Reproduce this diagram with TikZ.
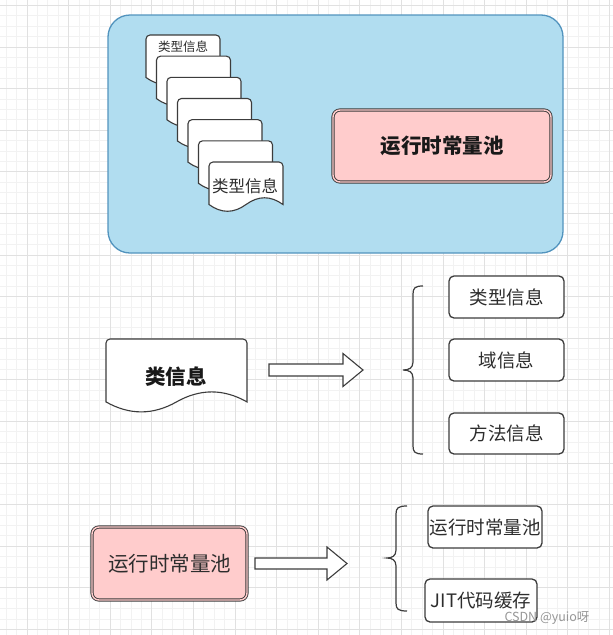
\documentclass[tikz,border=0pt]{standalone}
\usepackage{fontspec}
\setmainfont{Noto Sans CJK SC}
\usetikzlibrary{calc}
\definecolor{gridminor}{RGB}{242,242,242}
\definecolor{gridmajor}{RGB}{225,225,225}
\definecolor{bluefill}{RGB}{177,221,240}
\definecolor{bluedraw}{RGB}{82,148,190}
\definecolor{pinkfill}{RGB}{255,204,204}
\definecolor{inkdark}{RGB}{45,45,45}
\definecolor{linedark}{RGB}{60,60,60}
\definecolor{wmark}{RGB}{150,150,150}

% document shape: x0 y0 w h
\newcommand\docpath[4]{%
  \draw[docline] (#1,#2+0.85*#4) [rounded corners=4] -- (#1,#2) -- (#1+#3,#2) [sharp corners]
    -- (#1+#3,#2+0.85*#4)
    .. controls (#1+0.8333*#3,#2+0.67*#4) and (#1+0.6667*#3,#2+0.67*#4) .. (#1+0.5*#3,#2+0.85*#4)
    .. controls (#1+0.3333*#3,#2+1.03*#4) and (#1+0.1667*#3,#2+1.03*#4) .. (#1,#2+0.85*#4) -- cycle;}

% block arrow: start-name tip-name xs xh xt y shafthalf headhalf
\newcommand\blockarr[8]{%
  \coordinate (#1) at (#3,#6);
  \coordinate (#2) at (#5,#6);
  \draw[arrline] (#1) ++(0,-#7) -- (#4,#6-#7) -- (#4,#6-#8) -- (#2) -- (#4,#6+#8) -- (#4,#6+#7) -- ($(#1)+(0,#7)$) -- cycle;}

% brace: name xline xtip xend ytop ymid ybot
\newcommand\bracepath[7]{%
  \coordinate (#1t) at (#4,#5);
  \coordinate (#1m) at (#3,#6);
  \coordinate (#1b) at (#4,#7);
  \draw[braceline] (#1t) .. controls (#2+2,#5) and (#2,#5+2) .. (#2,#5+8) -- (#2,#6-8)
     .. controls (#2,#6-2) and (#2-4,#6) .. (#1m)
     .. controls (#2-4,#6) and (#2,#6+2) .. (#2,#6+8) -- (#2,#7-8)
     .. controls (#2,#7-2) and (#2+2,#7) .. (#1b);}

\tikzset{
  docline/.style={draw=linedark, fill=white, line width=1.1pt},
  arrline/.style={draw=linedark, fill=white, line width=1.1pt, line join=miter},
  braceline/.style={draw=linedark, line width=1.2pt},
  rbox/.style={draw=linedark, fill=white, line width=1.3pt, rounded corners=5pt,
    inner sep=0pt, text=inkdark, font=\fontsize{18.5}{20}\selectfont},
  pinkbox/.style={draw=linedark, double=pinkfill, double distance=1.4pt, line width=0.9pt,
    fill=pinkfill, rounded corners=7pt, inner sep=0pt},
  txt/.style={inner sep=0pt, text=inkdark},
}

\begin{document}
\begin{tikzpicture}[x=1pt,y=-1pt]
\useasboundingbox (0,0) rectangle (613,635);
\fill[white] (0,0) rectangle (613,635);
\begin{scope}
\clip (0,0) rectangle (613,635);
\foreach \i in {0,...,60} {
  \draw[gridminor, line width=0.8pt] (-4.2+10.4*\i,0) -- ++(0,635);
  \draw[gridminor, line width=0.8pt] (0,5.4+10.4*\i) -- ++(613,0);
}
\foreach \i in {-1,...,15} {
  \draw[gridmajor, line width=0.9pt] (27+41.6*\i,0) -- ++(0,635);
  \draw[gridmajor, line width=0.9pt] (0,5.4+41.6*\i) -- ++(613,0);
}
\end{scope}

% container
\node[draw=bluedraw, fill=bluefill, line width=1.3pt, rounded corners=22pt,
      minimum width=455pt, minimum height=238pt, inner sep=0pt] (pool) at (335.5,134) {};

% stack of documents
\foreach \i in {0,...,6} {
  \docpath{146+10.5*\i}{35+21.17*\i}{74}{50}
}
\node[txt, font=\fontsize{12.5}{14}\selectfont] (stk1) at (183,47) {类型信息};
\node[txt, font=\fontsize{16.5}{18}\selectfont] (stk7) at (245,186) {类型信息};

% runtime constant pool (top)
\node[pinkbox, minimum width=218pt, minimum height=72pt, text=black!90,
      font=\fontsize{20.5}{22}\selectfont\bfseries] (rcp1) at (442,146) {运行时常量池};

% class info document
\docpath{106}{339}{141}{74}
\node[txt, text=black!90, font=\fontsize{20.5}{22}\selectfont\bfseries] (cls) at (176,377) {类信息};

\blockarr{a1s}{a1e}{269}{343}{363}{370}{6}{16.5}
\bracepath{b1}{413}{403}{423}{286}{370}{454}

\node[rbox, minimum width=115pt, minimum height=42pt] (type) at (506.5,297) {类型信息};
\node[rbox, minimum width=115pt, minimum height=42pt] (field) at (506.5,360) {域信息};
\node[rbox, minimum width=115pt, minimum height=41pt] (method) at (506.5,433.5) {方法信息};

% bottom row
\node[pinkbox, minimum width=155pt, minimum height=73pt, text=inkdark,
      font=\fontsize{20.5}{22}\selectfont] (rcp2) at (169.5,563.5) {运行时常量池};

\blockarr{a2s}{a2e}{255}{327}{347}{563.5}{5.5}{16.5}
\bracepath{b2}{396}{387}{407}{506}{558}{611}

\node[rbox, minimum width=114pt, minimum height=42pt] (rcp3) at (485,527) {运行时常量池};
\node[rbox, minimum width=112pt, minimum height=43pt] (jit) at (481,600.5) {JIT代码缓存};

\node[inner sep=0pt, text=wmark, font=\fontsize{12.5}{14}\selectfont] (wm) at (547,618) {CSDN @yuio呀};
\end{tikzpicture}
\end{document}
